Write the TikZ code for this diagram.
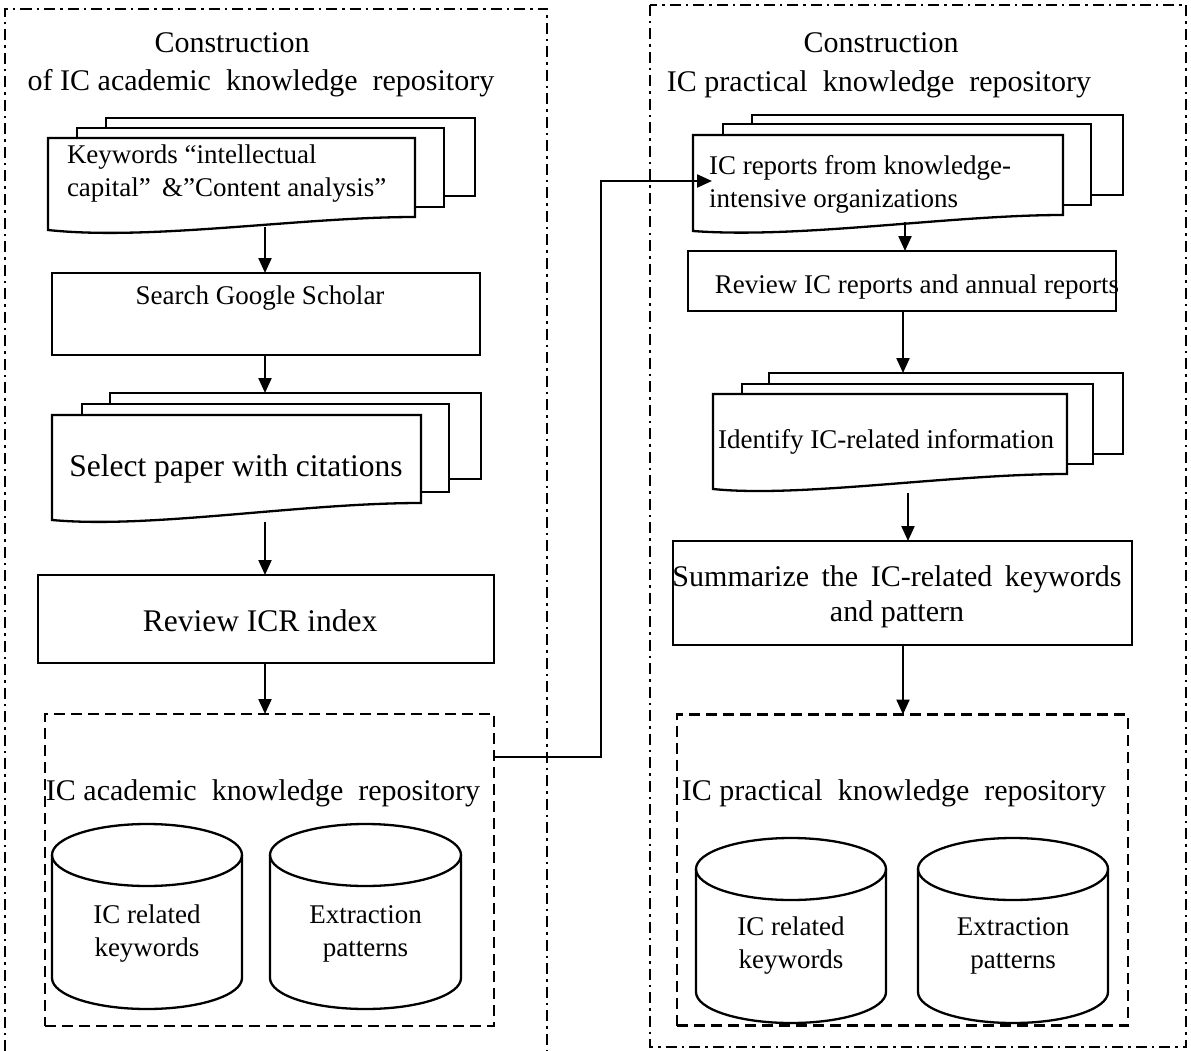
\documentclass[tikz,border=0pt]{standalone}
\usepackage{fontspec}
\setmainfont{Liberation Serif}
\usetikzlibrary{arrows.meta}

% cylinder (database) drawn from centre x, x radius, top y, bottom y, y radius
\newcommand\drum[5]{%
  \draw[cyl, fill=white] (#1-#2,#3) -- (#1-#2,#4)
     arc[start angle=180, end angle=360, x radius=#2pt, y radius=#5pt] -- (#1+#2,#3);
  \draw[cyl] (#1,#3) ellipse [x radius=#2pt, y radius=#5pt];}

\begin{document}
\begin{tikzpicture}[x=1pt,y=-1pt,
  every node/.style={inner sep=0pt, outer sep=0pt},
  body/.style={font=\fontsize{27}{33}\selectfont},
  big/.style={font=\fontsize{31.5}{36}\selectfont},
  head/.style={font=\fontsize{30}{40}\selectfont},
  procbox/.style={draw, line width=2.3pt},
  paper/.style={draw, fill=white, line width=2.3pt, line join=miter},
  groupbox/.style={draw, line width=2.1pt, dash pattern=on 11pt off 6pt},
  panel/.style={draw, line width=1.8pt, dash pattern=on 11pt off 5pt on 2.5pt off 5pt},
  flow/.style={line width=2.2pt, -{Triangle[length=15pt,width=13pt]}},
  cyl/.style={line width=2.3pt},
]
\useasboundingbox (0,0) rectangle (1191,1051);

% ---------- the two panels ----------
\draw[panel] (5,1051) -- (5,9) -- (547,9) -- (547,1051);
\draw[panel] (650,5) rectangle (1186,1047);

\node[head] (ltitle1) at (232,43) {Construction};
\node[head] (ltitle2) at (261,83) {of IC academic\ \ knowledge\ \ repository};
\node[head] (rtitle1) at (881,43) {Construction};
\node[head] (rtitle2) at (879,84) {IC practical\ \ knowledge\ \ repository};

% ---------- left column ----------
% stacked documents: keywords
\draw[paper] (106,118) rectangle (475,196);
\draw[paper] (77,128) rectangle (444,207);
\draw[paper] (48,138) -- (415,138) -- (415,217)
   .. controls (300,217) and (150,241) .. (48,230) -- cycle;
\node[body, anchor=west, align=left] (keywords) at (67,174)
   {Keywords “intellectual\\capital”\ \,\&”Content analysis”};
\coordinate (kwout) at (265,227);

\node[procbox, minimum width=428pt, minimum height=82pt] (search) at (266,314) {};
\node[body] (searchtxt) at (260,298) {Search Google Scholar};

% stacked documents: selected papers
\draw[paper] (110,393) rectangle (481,479);
\draw[paper] (82,404) rectangle (449,492);
\draw[paper] (52,415) -- (421,415) -- (421,503)
   .. controls (300,503) and (150,529) .. (52,520) -- cycle;
\node[big] (select) at (236,469) {Select paper with citations};
\coordinate (selin) at (265,393);
\coordinate (selout) at (265,522);

\node[procbox, minimum width=456pt, minimum height=88pt] (icr) at (266,619) {};
\node[big] (icrtxt) at (260,621) {Review ICR index};

\node[groupbox, minimum width=449pt, minimum height=312pt] (accrepo) at (269.5,870) {};
\node[head] (accrepotxt) at (263,793) {IC academic\ \ knowledge\ \ repository};
\drum{147}{95}{855}{978}{31}
\drum{365.5}{95.5}{855}{978}{31}
\node[body, align=center] (acckw) at (147,934) {IC related\\keywords};
\node[body, align=center] (accpat) at (365.5,934) {Extraction\\patterns};

\draw[flow] (kwout) -- (kwout |- search.north);
\draw[flow] (search.south -| selin) -- (selin);
\draw[flow] (selout) -- (selout |- icr.north);
\draw[flow] (icr.south -| selout) -- (selout |- accrepo.north);

% ---------- right column ----------
% stacked documents: IC reports
\draw[paper] (752,115) rectangle (1123,195);
\draw[paper] (723,124) rectangle (1091,205);
\draw[paper] (693,135) -- (1063,135) -- (1063,215)
   .. controls (950,215) and (800,239) .. (693,231) -- cycle;
\node[body, anchor=west, align=left] (reports) at (709,184)
   {IC reports from knowledge-\\intensive organizations};
\coordinate (repout) at (905,222);

\node[procbox, minimum width=428pt, minimum height=60pt] (review) at (902,281) {};
\node[body] (reviewtxt) at (917,287) {Review IC reports and annual reports};

% stacked documents: IC-related information
\draw[paper] (769,373) rectangle (1123,454);
\draw[paper] (742,384) rectangle (1093,464);
\draw[paper] (713,394) -- (1067,394) -- (1067,474)
   .. controls (950,474) and (800,498) .. (713,489) -- cycle;
\node[body] (identify) at (886,442) {Identify IC-related information};
\coordinate (idin) at (903,373);
\coordinate (idout) at (908,493);

\node[procbox, minimum width=459pt, minimum height=104pt] (summ) at (902.5,593) {};
\node[body, align=center, font=\fontsize{30}{35}\selectfont] (summtxt) at (897,597)
   {Summarize\ \,the\ \,IC-related\ \,keywords\\and pattern};

\node[groupbox, minimum width=451pt, minimum height=311pt] (pracrepo) at (902.5,870) {};
\node[head] (pracrepotxt) at (894,793) {IC practical\ \ knowledge\ \ repository};
\drum{791}{95}{869}{992}{31}
\drum{1013}{95}{869}{992}{31}
\node[body, align=center] (prackw) at (791,946) {IC related\\keywords};
\node[body, align=center] (pracpat) at (1013,946) {Extraction\\patterns};

\draw[flow] (repout) -- (repout |- review.north);
\draw[flow] (review.south -| idin) -- (idin);
\draw[flow] (idout) -- (idout |- summ.north);
\draw[flow] (summ.south -| idin) -- (idin |- pracrepo.north);

% ---------- link between the panels ----------
\coordinate (turn1) at (601,757);
\coordinate (turn2) at (601,181);
\coordinate (pracin) at (712,181);
\draw[flow] (accrepo.east |- turn1) -- (turn1) -- (turn2) -- (pracin);
\end{tikzpicture}
\end{document}
